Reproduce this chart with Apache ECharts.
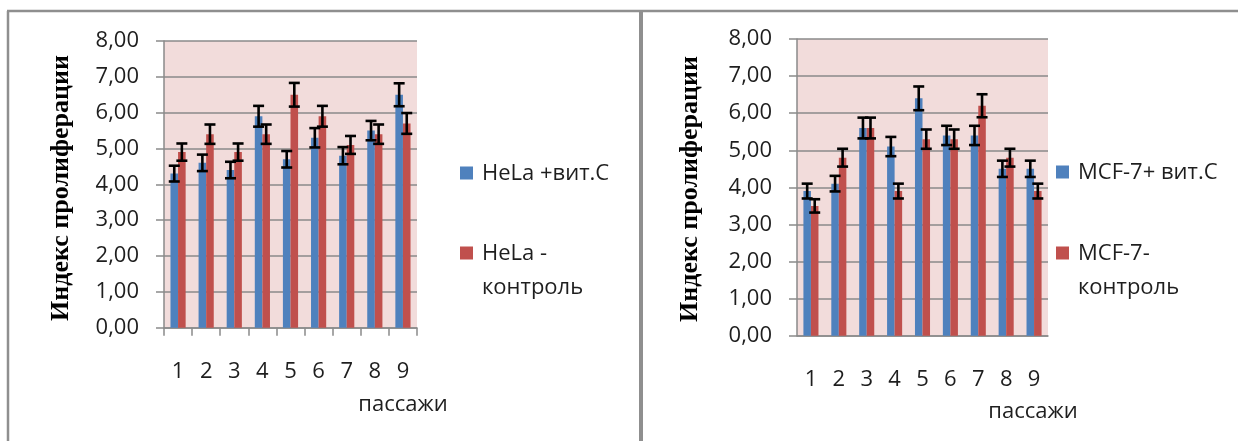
<!DOCTYPE html>
<html>
<head>
<meta charset="utf-8">
<script src="https://cdn.jsdelivr.net/npm/echarts@6/dist/echarts.min.js"></script>
<style>
html,body{margin:0;padding:0;background:#fff;}
#chart{width:1238px;height:441px;}
</style>
</head>
<body>
<div id="chart"></div>
<script>
// ---- data ----
var categories = ['1','2','3','4','5','6','7','8','9'];
var helaVitName = 'HeLa +вит.С';
var helaCtrlName = 'HeLa -\nконтроль';
var helaVit = [4.3, 4.6, 4.4, 5.9, 4.7, 5.3, 4.8, 5.5, 6.5];
var helaVitErr = [0.22, 0.23, 0.23, 0.29, 0.23, 0.27, 0.24, 0.27, 0.32];
var helaCtrl = [4.9, 5.4, 4.9, 5.4, 6.5, 5.9, 5.1, 5.4, 5.7];
var helaCtrlErr = [0.24, 0.27, 0.24, 0.27, 0.33, 0.29, 0.25, 0.27, 0.29];
var mcfVitName = 'MCF-7+ вит.С';
var mcfCtrlName = 'MCF-7-\nконтроль';
var mcfVit = [3.9, 4.1, 5.6, 5.1, 6.4, 5.4, 5.4, 4.5, 4.5];
var mcfVitErr = [0.20, 0.21, 0.28, 0.26, 0.32, 0.26, 0.26, 0.22, 0.22];
var mcfCtrl = [3.5, 4.8, 5.6, 3.9, 5.3, 5.3, 6.2, 4.8, 3.9];
var mcfCtrlErr = [0.18, 0.24, 0.28, 0.20, 0.26, 0.26, 0.31, 0.24, 0.20];
var yTitle = 'Индекс пролиферации';
var xTitle = 'пассажи';

// ---- styling ----
var BLUE = '#4F81BD', RED = '#C0504D', PLOT_BG = '#F2DCDB', GRID = '#8a8a8a';
var TEXT = '#1e1e1e';
var BAR_FRAC = 0.27;
var SANS = '"Open Sans", sans-serif';

function errData(vals, errs){
  return vals.map(function(v,i){ return [i, v, errs[i]]; });
}
function errRender(side){
  return function(params, api){
    var x = api.value(0), v = api.value(1), e = api.value(2);
    var hi = api.coord([x, v + e]);
    var lo = api.coord([x, v - e]);
    var bw = api.size([1, 0])[0] * BAR_FRAC;
    var cx = hi[0] + side * bw / 2;
    var cap = 5.5;
    var st = {stroke:'#000', lineWidth:2.6};
    return {type:'group', children:[
      {type:'line', shape:{x1:cx, y1:hi[1], x2:cx, y2:lo[1]}, style:st},
      {type:'line', shape:{x1:cx-cap, y1:hi[1], x2:cx+cap, y2:hi[1]}, style:st},
      {type:'line', shape:{x1:cx-cap, y1:lo[1], x2:cx+cap, y2:lo[1]}, style:st}
    ]};
  };
}
function yAxisCfg(gi){
  return {
    type:'value', gridIndex:gi, min:0, max:8, interval:1,
    axisLine:{show:true, lineStyle:{color:GRID, width:1.5}},
    axisTick:{show:true, length:8, lineStyle:{color:GRID, width:1.5}},
    splitLine:{show:true, lineStyle:{color:GRID, width:1.5}},
    axisLabel:{margin:25, color:TEXT, fontFamily:SANS, fontSize:22,
      formatter:function(v){ return v.toFixed(2).replace('.', ','); }}
  };
}
function xAxisCfg(gi, ticks){
  return {
    type:'category', gridIndex:gi, data:categories,
    axisLine:{show:true, lineStyle:{color:GRID, width:1.5}},
    axisTick:{show:ticks, length:8, alignWithLabel:false, lineStyle:{color:GRID, width:1.5}},
    axisLabel:{margin:33, color:TEXT, fontFamily:SANS, fontSize:22}
  };
}
function barSeries(name, data, color, gi){
  return {type:'bar', name:name, xAxisIndex:gi, yAxisIndex:gi, data:data,
    barWidth:(BAR_FRAC*100)+'%', barGap:'0%', itemStyle:{color:color}, silent:true};
}
function errSeries(vals, errs, side, gi){
  return {type:'custom', xAxisIndex:gi, yAxisIndex:gi, data:errData(vals, errs),
    encode:{x:0, y:1}, renderItem:errRender(side), z:5, silent:true};
}
function legendGraphic(x, y, name, color){
  return [
    {type:'rect', left:x, top:y-6.5, shape:{width:13, height:13}, style:{fill:color}},
    {type:'text', left:x+22, top:y-16, style:{text:name, font:'22px "Open Sans", sans-serif', fill:TEXT, lineHeight:34}}
  ];
}

var chart = echarts.init(document.getElementById('chart'), null, {renderer:'canvas'});
var graphics = [
  // frame
  {type:'line', shape:{x1:7, y1:11, x2:1238, y2:11}, style:{stroke:'#8f8f8f', lineWidth:2.5}},
  {type:'line', shape:{x1:8, y1:11, x2:8, y2:441}, style:{stroke:'#8f8f8f', lineWidth:2.5}},
  {type:'line', shape:{x1:641, y1:11, x2:641, y2:441}, style:{stroke:'#8f8f8f', lineWidth:4}},
  // y titles
  {type:'text', x:61, y:188, rotation:Math.PI/2, style:{text:yTitle, font:'bold 26px "Liberation Serif", serif', fill:'#000', align:'center', verticalAlign:'middle'}},
  {type:'text', x:690, y:189, rotation:Math.PI/2, style:{text:yTitle, font:'bold 26px "Liberation Serif", serif', fill:'#000', align:'center', verticalAlign:'middle'}},
  // x titles
  {type:'text', x:403, y:405, style:{text:xTitle, font:'22px "Open Sans", sans-serif', fill:TEXT, align:'center', verticalAlign:'middle'}},
  {type:'text', x:1033, y:412, style:{text:xTitle, font:'22px "Open Sans", sans-serif', fill:TEXT, align:'center', verticalAlign:'middle'}}
];
graphics = graphics
  .concat(legendGraphic(460, 173, helaVitName, BLUE))
  .concat(legendGraphic(460, 253, helaCtrlName, RED))
  .concat(legendGraphic(1056, 172, mcfVitName, BLUE))
  .concat(legendGraphic(1056, 253, mcfCtrlName, RED));

chart.setOption({
  animation:false,
  backgroundColor:'#fff',
  grid:[
    {left:164, top:41, width:253, height:286.7, show:true, backgroundColor:PLOT_BG, borderWidth:0},
    {left:797, top:39, width:251, height:296.7, show:true, backgroundColor:PLOT_BG, borderWidth:0}
  ],
  xAxis:[xAxisCfg(0, true), xAxisCfg(1, false)],
  yAxis:[yAxisCfg(0), yAxisCfg(1)],
  series:[
    barSeries(helaVitName, helaVit, BLUE, 0),
    barSeries(helaCtrlName, helaCtrl, RED, 0),
    errSeries(helaVit, helaVitErr, -1, 0),
    errSeries(helaCtrl, helaCtrlErr, 1, 0),
    barSeries(mcfVitName, mcfVit, BLUE, 1),
    barSeries(mcfCtrlName, mcfCtrl, RED, 1),
    errSeries(mcfVit, mcfVitErr, -1, 1),
    errSeries(mcfCtrl, mcfCtrlErr, 1, 1)
  ],
  graphic:graphics
});
</script>
</body>
</html>
